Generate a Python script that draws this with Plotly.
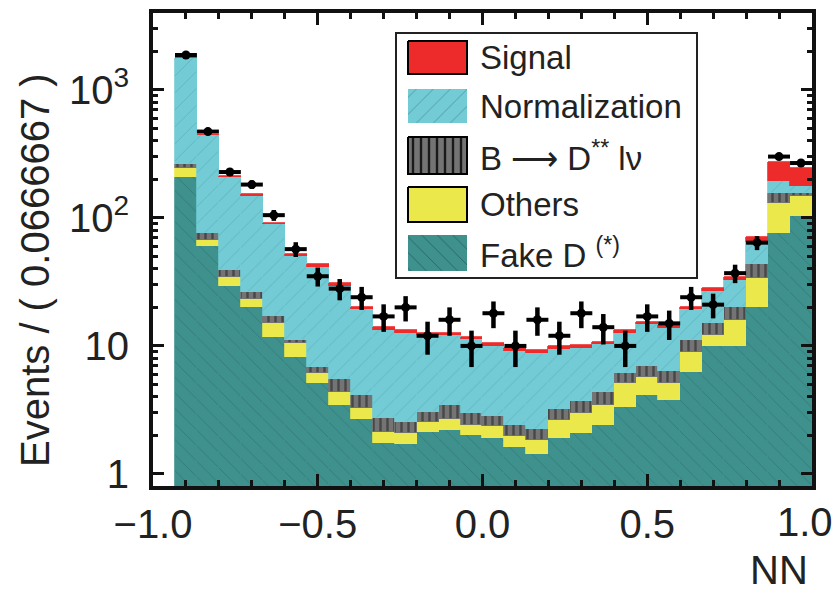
import numpy as np
import plotly.graph_objects as go

# ---------------- data ----------------
nn_centers = [-0.9, -0.8333, -0.7667, -0.7, -0.6333, -0.5667, -0.5, -0.4333, -0.3667,
              -0.3, -0.2333, -0.1667, -0.1, -0.0333, 0.0333, 0.1, 0.1667, 0.2333, 0.3,
              0.3667, 0.4333, 0.5, 0.5667, 0.6333, 0.7, 0.7667, 0.8333, 0.9, 0.9667]
bin_width = 0.0666667

fake_d = [209, 60, 29.4, 20, 11.7, 8.2, 5.1, 3.46, 2.67, 1.75, 1.71, 2.14, 2.21, 2.02, 1.9,
          1.63, 1.43, 1.9, 2.08, 2.41, 3.36, 4.14, 3.78, 6.3, 9.9, 10, 20.3, 76, 104]
others = [37, 7, 5.2, 3.3, 3.4, 2.3, 1.1, 0.94, 0.59, 0.39, 0.39, 0.42, 0.46, 0.39, 0.49,
          0.36, 0.41, 0.74, 0.9, 1.05, 1.74, 1.62, 1.32, 2.7, 2.3, 6.0, 13.5, 54, 43]
b_dstst = [19, 9, 4.4, 3.2, 1.9, 0.6, 0.7, 1.1, 0.88, 0.58, 0.46, 0.51, 0.79, 0.59, 0.45,
           0.42, 0.41, 0.56, 0.76, 0.94, 1.0, 1.24, 1.3, 2.1, 3.0, 4.3, 10.2, 26, 9]
normalization = [1505, 365, 171, 121.5, 72, 38.9, 34.8, 24.1, 15.26, 10.68, 10.14, 9.03, 8.64,
                 8.3, 7.16, 6.69, 6.55, 6.2, 5.96, 5.9, 6.6, 7.7, 7.5, 8.2, 11.6, 12.7, 21, 39, 20]
signal = [10, 4, 3, 7, 3, 2, 1.8, 1.3, 0.9, 0.6, 0.6, 0.5, 0.5, 0.5, 0.5, 0.5, 0.5, 0.5, 0.5,
          0.5, 0.6, 0.8, 0.7, 1.0, 1.5, 1.8, 5.6, 80, 69]
data_counts = [1870, 472, 228, 182, 105, 57, 35, 28, 24, 17, 20, 12, 16, 10, 18, 10, 16, 12, 18,
               14, 10, 17, 15, 24, 21, 37, 64, 301, 268]

x_tickvals = [-1.0, -0.5, 0.0, 0.5, 1.0]
x_ticktext = ["\u22121.0", "\u22120.5", "0.0", "0.5", ""]
last_x_label = "1.0"
y_tickvals = [1, 10, 100, 1000]
y_ticktext = ["1", "10", "10<sup>2</sup>", "10<sup>3</sup>"]

# ---------------- styles ----------------
TEAL = "#3f918d"
YELLOW = "#ebe84b"
GRAY = "#747474"
CYAN = "#72cbd5"
RED = "#ee2b2b"
FONT = "Liberation Sans Narrow, Liberation Sans, Arial, sans-serif"

fig = go.Figure()
widths = [bin_width] * len(nn_centers)

fig.add_trace(go.Bar(x=nn_centers, y=fake_d, width=widths, name="Fake D",
                     marker=dict(color=TEAL, line=dict(width=0.8, color=TEAL),
                                 pattern=dict(shape="\\", fgcolor="rgba(20,60,58,0.55)", size=11, solidity=0.08))))
fig.add_trace(go.Bar(x=nn_centers, y=others, width=widths, name="Others",
                     marker=dict(color=YELLOW, line=dict(width=0.8, color=YELLOW))))
fig.add_trace(go.Bar(x=nn_centers, y=b_dstst, width=widths, name="B -> D** lv",
                     marker=dict(color=GRAY, line=dict(width=0.8, color=GRAY),
                                 pattern=dict(shape="|", fgcolor="#1a1a1a", size=7, solidity=0.35))))
fig.add_trace(go.Bar(x=nn_centers, y=normalization, width=widths, name="Normalization",
                     marker=dict(color=CYAN, line=dict(width=0.8, color=CYAN),
                                 pattern=dict(shape="/", fgcolor="rgba(50,110,120,0.55)", size=12, solidity=0.07))))
fig.add_trace(go.Bar(x=nn_centers, y=signal, width=widths, name="Signal",
                     marker=dict(color=RED, line=dict(width=0.8, color=RED))))

fig.add_trace(go.Scatter(
    x=nn_centers, y=data_counts, mode="markers", name="Data",
    marker=dict(color="black", size=9),
    error_y=dict(type="data", array=list(np.sqrt(np.array(data_counts, dtype=float))),
                 thickness=4.5, width=0, color="black"),
    error_x=dict(type="constant", value=bin_width / 2, thickness=4, width=0, color="black"),
))

# ---------------- legend drawn by hand (pixel-like overlay axes) ----------------
legend_entries = [
    ("Signal", 41, 74, RED, None, True),
    ("Normalization", 89, 123, CYAN, dict(shape="/", fgcolor="rgba(50,110,120,0.6)", size=12, solidity=0.07), False),
    ("B \u27f6 D<sup>**</sup> l\u03bd", 137, 174, GRAY, dict(shape="|", fgcolor="#1a1a1a", size=8, solidity=0.3), True),
    ("Others", 187, 222, YELLOW, None, True),
    ("Fake D <sup>(*)</sup>", 235, 271, TEAL, dict(shape="\\", fgcolor="rgba(20,60,58,0.55)", size=11, solidity=0.08), False),
]
annotations = []
for label, y0, y1, col, pat, outline in legend_entries:
    kw = dict(x=[408, 467, 467, 408, 408], y=[y0, y0, y1, y1, y0], mode="lines", fill="toself",
              fillcolor=col, xaxis="x2", yaxis="y2", showlegend=False, hoverinfo="skip",
              line=dict(color="black" if outline else col, width=2 if outline else 0))
    if pat is not None:
        kw["fillpattern"] = dict(bgcolor=col, fillmode="replace", **pat)
    fig.add_trace(go.Scatter(**kw))
    annotations.append(dict(x=478, y=(y0 + y1) / 2, xref="x2", yref="y2", text=label, showarrow=False,
                            xanchor="left", yanchor="middle", font=dict(family=FONT, size=33, color="#222")))

annotations.append(dict(x=35, y=270, xref="paper", yref="paper", text="Events / ( 0.0666667 )",
                        textangle=-90, showarrow=False, xanchor="center", yanchor="middle",
                        font=dict(family=FONT, size=40, color="#222")))
annotations.append(dict(x=810, y=570, xref="paper", yref="paper", text="NN", showarrow=False,
                        xanchor="right", yanchor="middle", font=dict(family=FONT, size=40, color="#222")))
annotations.append(dict(x=835, y=522, xref="paper", yref="paper", text=last_x_label, showarrow=False,
                        xanchor="right", yanchor="middle", font=dict(family=FONT, size=40, color="#222")))

# convert pixel positions of the axis title annotations to paper fractions
L, R, T, B = 153, 812, 13, 486
for a in annotations:
    if a["xref"] == "paper":
        a["x"] = (a["x"] - L) / (R - L)
        a["y"] = (B - a["y"]) / (B - T)

minor_x = [v / 10 for v in range(-9, 10) if v % 5 != 0]
minor_y = [m * 10 ** e for e in range(0, 4) for m in range(2, 10)]

fig.update_layout(
    width=838, height=596,
    margin=dict(l=L, r=838 - R, t=T, b=596 - B, autoexpand=False),
    barmode="stack", bargap=0,
    plot_bgcolor="white", paper_bgcolor="white",
    showlegend=False,
    font=dict(family=FONT, color="#222"),
    annotations=annotations,
    shapes=[dict(type="rect", xref="x2", yref="y2", x0=396, x1=697, y0=33, y1=278,
                 line=dict(color="#222", width=2), fillcolor="white", layer="below")],
    xaxis=dict(range=[-1, 1.0001], tickvals=x_tickvals, ticktext=x_ticktext, ticks="inside",
               ticklen=12, tickwidth=3, tickcolor="#111", showline=True, linewidth=4, linecolor="#111",
               mirror="allticks", showgrid=False, zeroline=False, ticklabeloverflow="allow", automargin=False,
               tickfont=dict(family=FONT, size=40, color="#222"), ticklabelstandoff=0,
               minor=dict(tickvals=minor_x, ticks="inside", ticklen=6, tickwidth=3, tickcolor="#111", showgrid=False)),
    yaxis=dict(type="log", range=[-0.094, 3.60], tickvals=y_tickvals, ticktext=y_ticktext, ticks="inside",
               ticklen=11, tickwidth=3, tickcolor="#111", showline=True, linewidth=4, linecolor="#111",
               mirror="allticks", showgrid=False, zeroline=False, automargin=False,
               tickfont=dict(family=FONT, size=40, color="#222"), ticklabelstandoff=12,
               minor=dict(tickvals=minor_y, ticks="inside", ticklen=5, tickwidth=3, tickcolor="#111", showgrid=False)),
    xaxis2=dict(overlaying="x", range=[L, R], visible=False, anchor="y2"),
    yaxis2=dict(overlaying="y", range=[B, T], visible=False, anchor="x2"),
)

fig.write_html("out.html")
